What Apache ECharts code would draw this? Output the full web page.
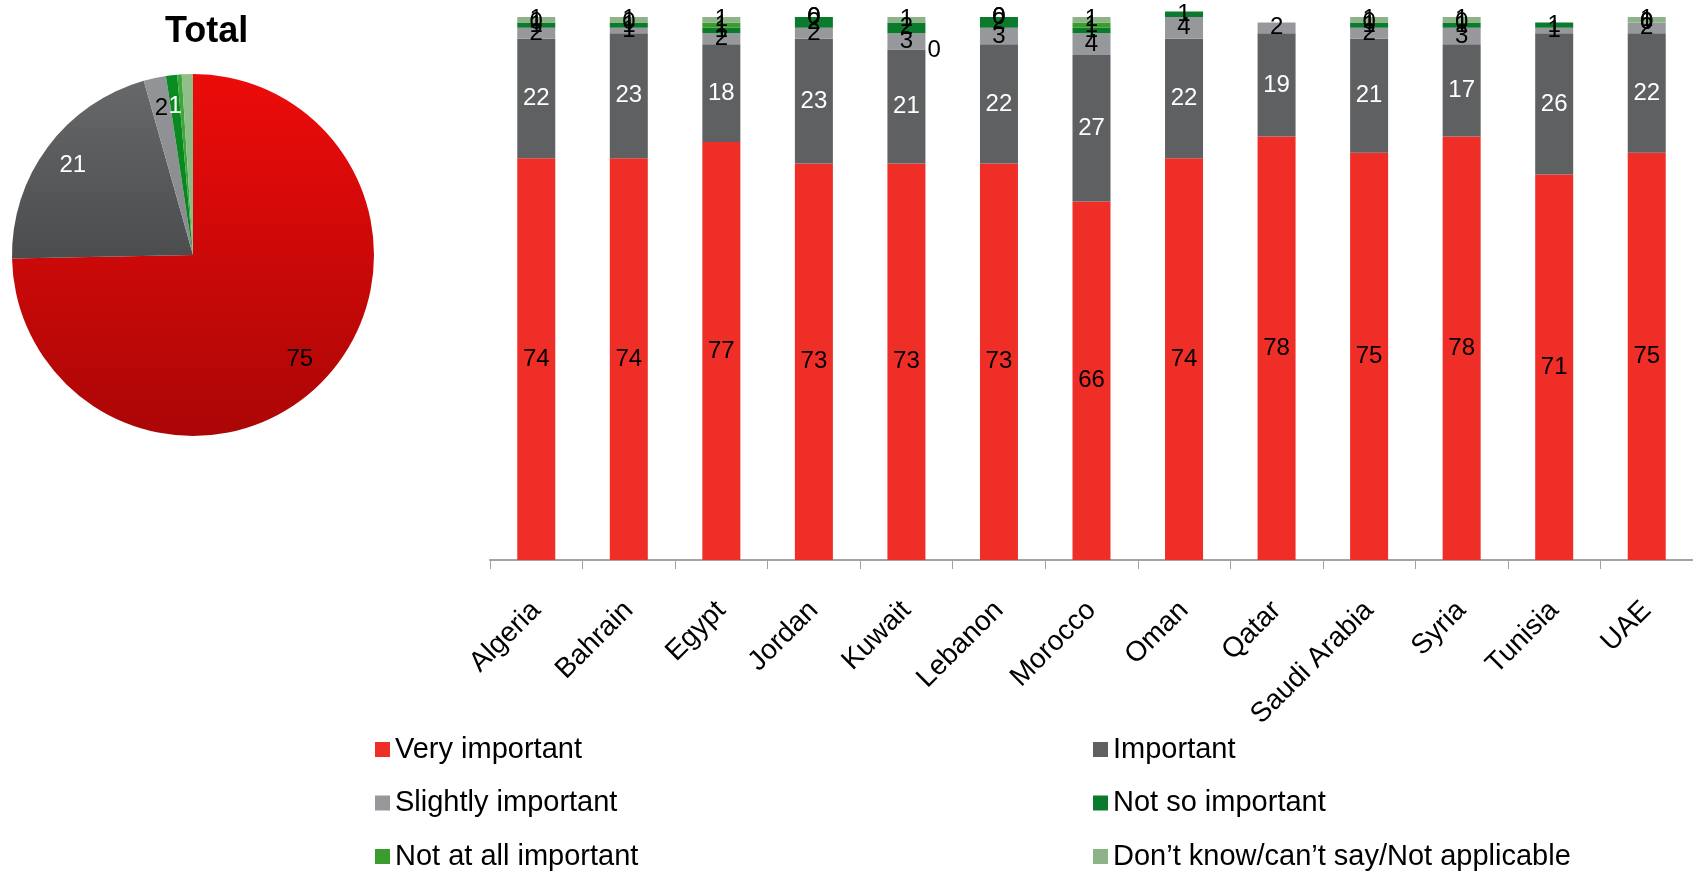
<!DOCTYPE html>
<html>
<head>
<meta charset="utf-8">
<script src="https://cdn.jsdelivr.net/npm/echarts@6/dist/echarts.min.js"></script>
<style>
  html, body { margin: 0; padding: 0; background: #ffffff; }
  #chart { width: 1693px; height: 872px; }
</style>
</head>
<body>
<div id="chart"></div>
<script>
// Survey answers per country (percent of respondents)
const countries = ['Algeria', 'Bahrain', 'Egypt', 'Jordan', 'Kuwait', 'Lebanon', 'Morocco', 'Oman', 'Qatar', 'Saudi Arabia', 'Syria', 'Tunisia', 'UAE'];
const veryImportant     = [74, 74, 77, 73, 73, 73, 66, 74, 78, 75, 78, 71, 75];
const important         = [22, 23, 18, 23, 21, 22, 27, 22, 19, 21, 17, 26, 22];
const slightlyImportant = [2, 1, 2, 2, 3, 3, 4, 4, 2, 2, 3, 1, 2];
const notSoImportant    = [1, 1, 1, 2, 2, 2, 1, 1, null, 1, 1, 1, 0];
const notAtAllImportant = [0, 0, 1, 0, 0, 0, 1, null, null, 0, 0, null, 0];
const dontKnow          = [1, 1, 1, 0, 1, 0, 1, null, null, 1, 1, null, 1];

// Overall answers (pie)
const totalShares = [75, 21, 2, 1, 0.4, 1];

const answerNames = ['Very important', 'Important', 'Slightly important', 'Not so important', 'Not at all important', 'Don\u2019t know/can\u2019t say/Not applicable'];

const FONT = '"Liberation Sans", Arial, Helvetica, sans-serif';
const barColors = ['#ef2e28', '#5f6062', '#97989b', '#0b7a2c', '#3a9c2c', '#8fb389'];
const barLabelColors = ['#000', '#fff', '#000', '#000', '#000', '#000'];
const barValues = [veryImportant, important, slightlyImportant, notSoImportant, notAtAllImportant, dontKnow];

// Pie fills: vertical gradients across the whole disc
const pieCenter = [193, 255];
const pieRadius = 181;
function vGrad(top, bottom) {
  return {
    type: 'linear', global: true,
    x: 0, y: pieCenter[1] - pieRadius, x2: 0, y2: pieCenter[1] + pieRadius,
    colorStops: [{ offset: 0, color: top }, { offset: 1, color: bottom }]
  };
}
const pieFills = [
  vGrad('#ec0c0a', '#ab0606'),
  vGrad('#68696b', '#2f3032'),
  vGrad('#939498', '#808185'),
  vGrad('#0a8c22', '#087a1c'),
  vGrad('#3fa83a', '#3a9c34'),
  vGrad('#90bf8a', '#86b07f')
];
const pieLabelColors = ['#000', '#fff', '#000', '#fff', '#000', '#000'];

const barSeries = answerNames.map((name, i) => ({
  name: name,
  type: 'bar',
  stack: 'answers',
  barWidth: 38,
  clip: false,
  data: barValues[i].map((v, j) => {
    if (v === null) return null;
    // Kuwait's "not at all" label sits beside the bar
    if (i === 4 && countries[j] === 'Kuwait') {
      return { value: v, label: { position: 'right', distance: 2, offset: [0, 28] } };
    }
    return v;
  }),
  itemStyle: { color: barColors[i] },
  label: {
    show: true,
    position: 'inside',
    color: barLabelColors[i],
    fontSize: 24,
    fontFamily: FONT
  },
  emphasis: { disabled: true }
}));

const pieSeries = {
  name: 'Total',
  type: 'pie',
  center: pieCenter,
  radius: pieRadius,
  startAngle: 90,
  clockwise: true,
  silent: true,
  label: { show: false },
  labelLine: { show: false },
  data: answerNames.map((n, i) => ({ name: n, value: totalShares[i], itemStyle: { color: pieFills[i] } }))
};

// Transparent twin of the pie, used only to place the slice labels further out
const pieLabelSeries = {
  type: 'pie',
  center: pieCenter,
  radius: [0, pieRadius * 1.62],
  startAngle: 90,
  clockwise: true,
  silent: true,
  avoidLabelOverlap: false,
  labelLine: { show: false },
  data: answerNames.map((n, i) => ({
    name: n,
    value: totalShares[i],
    itemStyle: { color: 'rgba(0,0,0,0)' },
    label: {
      show: totalShares[i] >= 0.5,
      position: 'inside',
      formatter: '{c}',
      color: pieLabelColors[i],
      fontSize: 24,
      fontFamily: FONT
    }
  }))
};

const legendBase = {
  orient: 'vertical',
  icon: 'rect',
  itemWidth: 15,
  itemHeight: 15,
  itemGap: 24.5,
  padding: 0,
  height: 160,
  selectedMode: false,
  textStyle: { fontSize: 29, lineHeight: 28, color: '#000', fontFamily: FONT }
};

const chart = echarts.init(document.getElementById('chart'), null, { renderer: 'canvas' });
chart.setOption({
  animation: false,
  backgroundColor: '#ffffff',
  title: {
    text: 'Total',
    left: 160,
    top: 9,
    textStyle: { fontSize: 36, fontWeight: 'bold', color: '#000', fontFamily: FONT }
  },
  legend: [
    Object.assign({}, legendBase, { left: 375, top: 735, data: [answerNames[0], answerNames[2], answerNames[4]] }),
    Object.assign({}, legendBase, { left: 1093, top: 735, data: [answerNames[1], answerNames[3], answerNames[5]] })
  ],
  grid: { left: 490, right: 0, top: 17, bottom: 312, containLabel: false },
  xAxis: {
    type: 'category',
    data: countries,
    axisLine: { lineStyle: { color: '#a3a3a3', width: 2 } },
    axisTick: { show: true, length: 9, lineStyle: { color: '#a3a3a3', width: 1 } },
    axisLabel: {
      interval: 0,
      rotate: 45,
      margin: 46,
      color: '#000',
      fontSize: 28,
      fontFamily: FONT
    }
  },
  yAxis: { type: 'value', min: 0, max: 100, show: false },
  series: barSeries.concat([pieSeries, pieLabelSeries])
});
</script>
</body>
</html>
